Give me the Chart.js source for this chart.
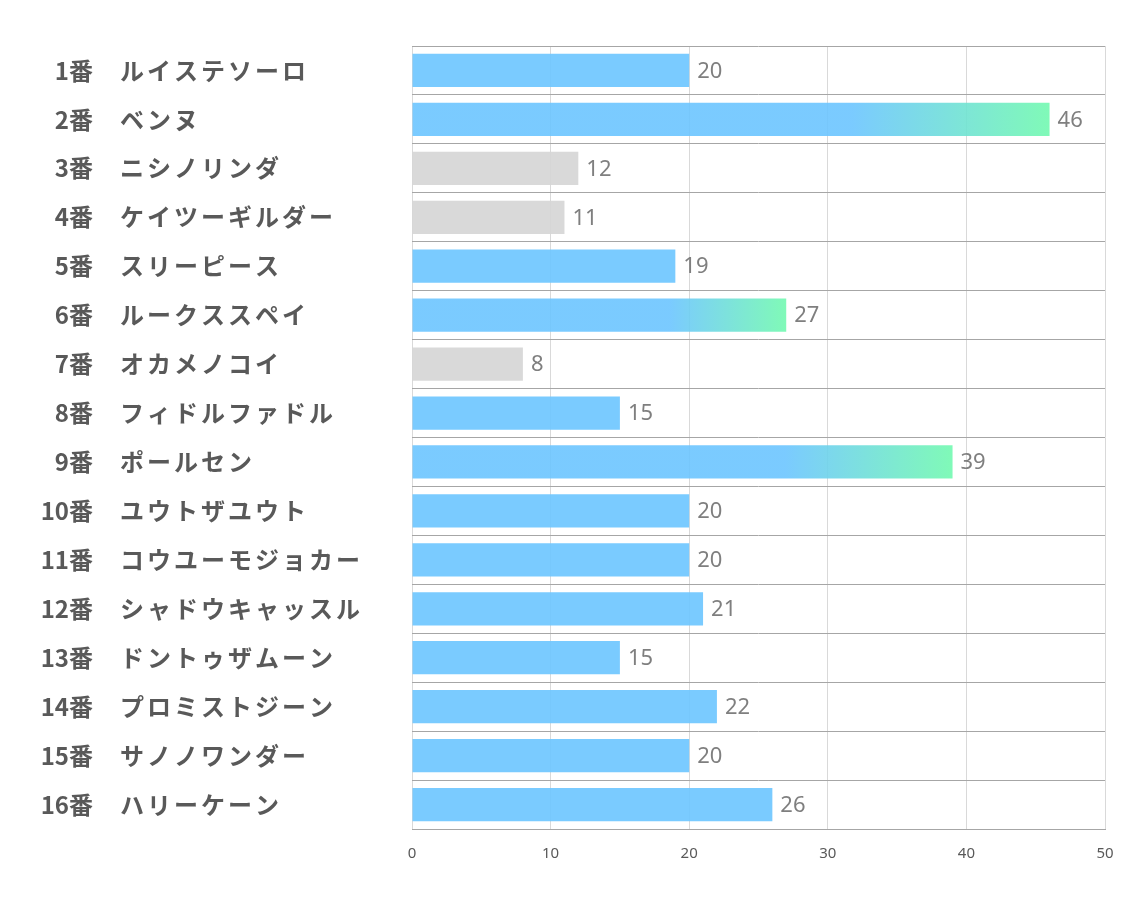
<!DOCTYPE html>
<html>
<head>
<meta charset="utf-8">
<script src="https://cdn.jsdelivr.net/npm/chart.js@4"></script>
<style>
  html, body { margin: 0; padding: 0; background: #fff; }
  #wrap { width: 1134px; height: 907px; }
</style>
</head>
<body>
<div id="wrap"><canvas id="myChart"></canvas></div>
<script>
var umaban = [1,2,3,4,5,6,7,8,9,10,11,12,13,14,15,16];
var bamei = ["ルイステソーロ","ベンヌ","ニシノリンダ","ケイツーギルダー","スリーピース","ルークススペイ","オカメノコイ","フィドルファドル","ポールセン","ユウトザユウト","コウユーモジョカー","シャドウキャッスル","ドントゥザムーン","プロミストジーン","サノノワンダー","ハリーケーン"];
var shisu = [20,46,12,11,19,27,8,15,39,20,20,21,15,22,20,26];
var xTicks = [0,10,20,30,40,50];

// slightly see-through so the grid shows faintly through the bars
var BLUE = "rgba(108,197,255,0.9)";
var GREEN = "rgba(114,249,176,0.9)";
var GRAY = "rgba(213,213,213,0.9)";

// top 3 -> gradient, bottom 3 -> gray
var sorted = shisu.slice().sort(function (a, b) { return b - a; });
var top3 = sorted[2], bottom3 = sorted[sorted.length - 3];

function barColor(c) {
    var v = shisu[c.dataIndex];
    if (v <= bottom3) return GRAY;
    if (v < top3) return BLUE;
    var chart = c.chart;
    if (!chart.chartArea) return BLUE;
    var x0 = chart.scales.x.getPixelForValue(0);
    var x1 = chart.scales.x.getPixelForValue(v);
    var g = chart.ctx.createLinearGradient(x0, 0, x1, 0);
    g.addColorStop(0, BLUE);
    g.addColorStop(0.69, BLUE);
    g.addColorStop(1, GREEN);
    return g;
}

var labelPlugin = {
    id: "labels",
    afterDraw: function (chart) {
        var ctx = chart.ctx, y = chart.scales.y;
        ctx.save();
        ctx.fillStyle = "#595959";
        ctx.font = "bold 24px 'Noto Sans CJK JP'";
        ctx.textBaseline = "middle";
        for (var i = 0; i < bamei.length; i++) {
            var py = y.getPixelForValue(i);
            ctx.letterSpacing = "0px";
            ctx.textAlign = "right";
            ctx.fillText(umaban[i] + "番", 93, py);
            ctx.letterSpacing = "3px";
            ctx.textAlign = "left";
            ctx.fillText(bamei[i], 120, py);
        }
        ctx.restore();
    },
    afterDatasetsDraw: function (chart) {
        var ctx = chart.ctx;
        var meta = chart.getDatasetMeta(0);
        ctx.save();
        ctx.fillStyle = "#7f7f7f";
        ctx.font = "22px 'Noto Sans'";
        ctx.textBaseline = "middle";
        ctx.textAlign = "left";
        meta.data.forEach(function (bar, i) {
            ctx.fillText(shisu[i], bar.x + 8, bar.y + 1);
        });
        ctx.restore();
    }
};

var ctx = document.getElementById("myChart");
var myChart = new Chart(ctx, {
    type: 'bar',
    data: {
        labels: bamei,
        datasets: [
            {
                data: shisu,
                backgroundColor: barColor,
                categoryPercentage: 0.68,
                barPercentage: 1
            }
        ]
    },
    options: {
        indexAxis: 'y',
        responsive: true,
        maintainAspectRatio: false,
        animation: false,
        layout: { padding: { top: 46, right: 29, left: 0, bottom: 0 } },
        plugins: { legend: { display: false }, tooltip: { enabled: false } },
        scales: {
            x: {
                min: 0,
                max: 50,
                afterBuildTicks: function (s) { s.ticks = xTicks.map(function (v) { return { value: v }; }); },
                afterFit: function (s) { s.height = 78; },
                grid: { color: "#d9d9d9", drawTicks: false },
                border: { color: "#a6a6a6" },
                ticks: { color: "#595959", font: { size: 15, family: "'Noto Sans'" }, padding: 16 }
            },
            y: {
                afterFit: function (s) { s.width = 412; },
                grid: { offset: true, color: "#a6a6a6", drawTicks: false },
                border: { display: false },
                ticks: { display: false }
            }
        }
    },
    plugins: [labelPlugin]
});
</script>
</body>
</html>
